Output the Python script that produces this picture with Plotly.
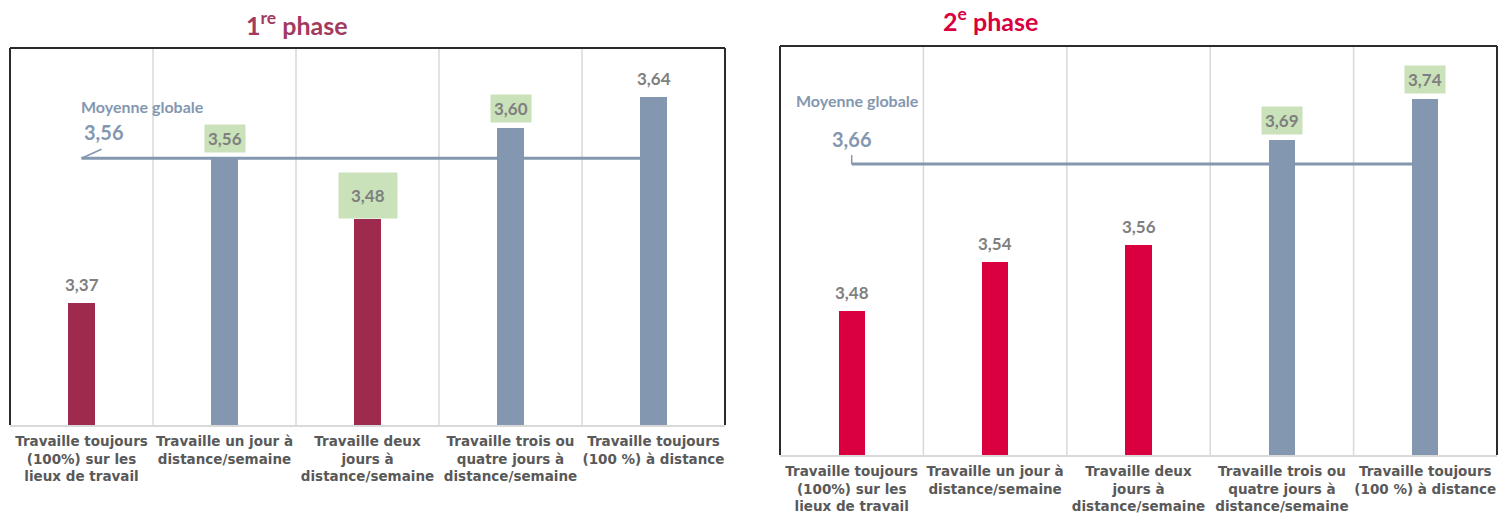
import plotly.graph_objects as go

# ---------------- data ----------------
categories = [
    "Travaille toujours<br>(100%) sur les<br>lieux de travail",
    "Travaille un jour à<br>distance/semaine",
    "Travaille deux<br>jours à<br>distance/semaine",
    "Travaille trois ou<br>quatre jours à<br>distance/semaine",
    "Travaille toujours<br>(100 %) à distance",
]
phase1_values = [3.37, 3.56, 3.48, 3.60, 3.64]
phase2_values = [3.48, 3.54, 3.56, 3.69, 3.74]
phase1_mean = 3.56
phase2_mean = 3.66
phase1_title = "1<sup>re</sup> phase"
phase2_title = "2<sup>e</sup> phase"
mean_label = "Moyenne globale"
phase1_highlight = [1, 2, 3]   # labels shown in a green box
phase2_highlight = [3, 4]

# ---------------- style ----------------
W, H = 1507, 514
BLUE = "#8497B0"
MAROON = "#9E2B4E"
CRIMSON = "#DA0040"
GREEN = "#C9E2B9"
GRID = "#D9D9D9"
BORDER = "#2B2B2B"
LABEL = "#7F7F7F"
TICK = "#595959"
NUMFONT = "Lato"
BAR_W = 0.182

def fmt(v):
    return f"{v:.2f}".replace(".", ",")

panels = [
    dict(vals=phase1_values, mean=phase1_mean, low=MAROON, title=phase1_title,
         tcol="#A33A5E", hl=phase1_highlight, xd=[10 / W, 725 / W],
         yd=[(H - 425) / H, (H - 48) / H], yr=[3.209, 3.705],
         tx=297 / W, ty=(H - 24) / H, ax="x", ay="y", big=[2]),
    dict(vals=phase2_values, mean=phase2_mean, low=CRIMSON, title=phase2_title,
         tcol=CRIMSON, hl=phase2_highlight, xd=[780 / W, 1497 / W],
         yd=[(H - 455) / H, (H - 46) / H], yr=[3.3026, 3.805],
         tx=990 / W, ty=(H - 20) / H, ax="x2", ay="y2", big=[]),
]

fig = go.Figure()
shapes = []
annotations = []
xpos = list(range(len(categories)))

for k, p in enumerate(panels):
    colors = [p["low"] if v < p["mean"] else BLUE for v in p["vals"]]
    fig.add_trace(go.Bar(x=xpos, y=p["vals"], marker_color=colors, width=BAR_W,
                         marker_line_width=0, xaxis=p["ax"], yaxis=p["ay"],
                         showlegend=False, hoverinfo="skip"))
    # mean line
    fig.add_trace(go.Scatter(x=[xpos[0], xpos[-1] - BAR_W / 2], y=[p["mean"], p["mean"]],
                             mode="lines", line=dict(color=BLUE, width=3),
                             xaxis=p["ax"], yaxis=p["ay"], showlegend=False,
                             hoverinfo="skip"))
    suffix = "" if k == 0 else "2"
    xa = dict(domain=p["xd"], range=[-0.5, len(categories) - 0.5], tickvals=xpos,
              ticktext=categories, showgrid=False, zeroline=False, showline=True,
              linecolor=GRID, linewidth=2, ticks="", fixedrange=True,
              tickfont=dict(family="DejaVu Sans", size=13.5, color=TICK, weight="bold"),
              ticklabelstandoff=3, anchor="y" + suffix)
    ya = dict(domain=p["yd"], range=p["yr"], visible=False, fixedrange=True,
              anchor="x" + suffix)
    fig.update_layout(**{"xaxis" + suffix: xa, "yaxis" + suffix: ya})

    xr, yr = p["ax"], p["ay"]
    # category separators
    for i in range(len(categories) - 1):
        shapes.append(dict(type="line", xref=xr, yref=yr + " domain", x0=i + 0.5, x1=i + 0.5,
                           y0=0, y1=1, line=dict(color=GRID, width=1.5), layer="below"))
    # frame (top/left/right)
    for (x0, y0, x1, y1) in [(0, 0, 0, 1), (0, 1, 1, 1), (1, 0, 1, 1)]:
        shapes.append(dict(type="line", xref=xr + " domain", yref=yr + " domain",
                           x0=x0, y0=y0, x1=x1, y1=y1, line=dict(color=BORDER, width=2)))
    # leader tick of mean label
    if k == 0:
        shapes.append(dict(type="line", xref=xr, yref=yr, x0=0, y0=p["mean"],
                           x1=0.14, y1=p["mean"] + 9 / 760, line=dict(color=BLUE, width=1.5)))
        annotations.append(dict(xref=xr, yref=yr, x=0, y=p["mean"], text=fmt(p["mean"]),
                                showarrow=False, xanchor="left", yanchor="middle",
                                yshift=26, xshift=0,
                                font=dict(family=NUMFONT, size=20, color=BLUE, weight="bold")))
        annotations.append(dict(xref=xr, yref=yr, x=0, y=p["mean"], text=mean_label,
                                showarrow=False, xanchor="left", yanchor="middle",
                                yshift=52, xshift=-3,
                                font=dict(family=NUMFONT, size=16, color=BLUE, weight="bold")))
    else:
        shapes.append(dict(type="line", xref=xr, yref=yr, x0=0, y0=p["mean"],
                           x1=0, y1=p["mean"] + 9 / 815, line=dict(color=BLUE, width=1.5)))
        annotations.append(dict(xref=xr, yref=yr, x=0, y=p["mean"], text=fmt(p["mean"]),
                                showarrow=False, xanchor="center", yanchor="middle",
                                yshift=25, xshift=0,
                                font=dict(family=NUMFONT, size=20, color=BLUE, weight="bold")))
        annotations.append(dict(xref=xr, yref=yr, x=0, y=p["mean"], text=mean_label,
                                showarrow=False, xanchor="center", yanchor="middle",
                                yshift=64, xshift=6,
                                font=dict(family=NUMFONT, size=16, color=BLUE, weight="bold")))
    # value labels
    for i, v in enumerate(p["vals"]):
        a = dict(xref=xr, yref=yr, x=i, y=v, text=fmt(v), showarrow=False,
                 xanchor="center", yanchor="bottom",
                 font=dict(family=NUMFONT, size=17, color=LABEL, weight="bold"))
        if i in p["hl"]:
            pad = 12 if i in p["big"] else 3
            a.update(bgcolor=GREEN, borderpad=pad, yshift=0 if i in p["big"] else 5)
        else:
            a.update(yshift=6)
        annotations.append(a)
    # title
    annotations.append(dict(xref="paper", yref="paper", x=p["tx"], y=p["ty"], text=p["title"],
                            showarrow=False, xanchor="center", yanchor="middle",
                            font=dict(family=NUMFONT, size=25, color=p["tcol"], weight="bold")))

fig.update_layout(width=W, height=H, margin=dict(l=0, r=0, t=0, b=0),
                  paper_bgcolor="white", plot_bgcolor="white",
                  shapes=shapes, annotations=annotations, bargap=0)

fig.write_html("out.html", config={"displayModeBar": False},
               post_script="document.body.style.margin='0';document.body.style.padding='0';")
